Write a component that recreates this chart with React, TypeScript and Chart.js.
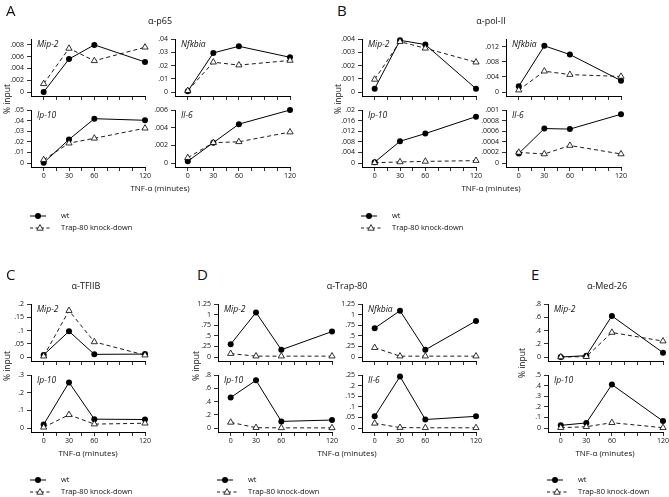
import React, { useEffect, useRef } from "react";
import { Chart, registerables } from "chart.js";

Chart.register(...registerables);

// ---------- shared axis values ----------
const minutes = [0, 30, 60, 120];
const xTickValues = [0, 15, 30, 45, 60, 75, 90, 105, 120];
const xLabeledMinutes = [0, 30, 60, 120];

// ---------- α-p65 ----------
const p65Mip2Wt = [0, 0.0056, 0.008, 0.0051];
const p65Mip2Kd = [0.0014, 0.0074, 0.0053, 0.0076];
const p65NfkbiaWt = [0.0005, 0.0295, 0.0345, 0.0262];
const p65NfkbiaKd = [0.001, 0.0225, 0.0203, 0.0238];
const p65Ip10Wt = [0.0003, 0.0222, 0.0418, 0.0403];
const p65Ip10Kd = [0.003, 0.0187, 0.0233, 0.0328];
const p65Il6Wt = [0.0002, 0.0023, 0.0044, 0.006];
const p65Il6Kd = [0.0006, 0.0023, 0.0024, 0.0035];

// ---------- α-pol-II ----------
const polMip2Wt = [0.00025, 0.0039, 0.00358, 0.00025];
const polMip2Kd = [0.00095, 0.0038, 0.0033, 0.00225];
const polNfkbiaWt = [0.0015, 0.0122, 0.0099, 0.003];
const polNfkbiaKd = [0.0005, 0.0055, 0.0046, 0.0041];
const polIp10Wt = [0.0003, 0.0082, 0.0111, 0.0175];
const polIp10Kd = [0.0001, 0.0004, 0.0006, 0.0009];
const polIl6Wt = [0.00018, 0.00065, 0.00064, 0.00092];
const polIl6Kd = [0.0002, 0.00017, 0.00033, 0.00017];

// ---------- α-TFIIB ----------
const tfMip2Wt = [0.008, 0.097, 0.01, 0.011];
const tfMip2Kd = [0.003, 0.175, 0.057, 0.007];
const tfIp10Wt = [0.02, 0.258, 0.05, 0.048];
const tfIp10Kd = [0.004, 0.075, 0.022, 0.027];

// ---------- α-Trap-80 ----------
const trMip2Wt = [0.3, 1.05, 0.17, 0.6];
const trMip2Kd = [0.08, 0.02, 0.02, 0.02];
const trNfkbiaWt = [0.68, 1.09, 0.17, 0.85];
const trNfkbiaKd = [0.22, 0.02, 0.02, 0.02];
const trIp10Wt = [0.46, 0.72, 0.1, 0.12];
const trIp10Kd = [0.085, 0.005, 0.002, 0.002];
const trIl6Wt = [0.055, 0.243, 0.04, 0.055];
const trIl6Kd = [0.022, 0.002, 0.001, 0.001];

// ---------- α-Med-26 ----------
const medMip2Wt = [0, 0.02, 0.62, 0.065];
const medMip2Kd = [0, 0.005, 0.37, 0.24];
const medIp10Wt = [0.025, 0.048, 0.41, 0.065];
const medIp10Kd = [0.003, 0.012, 0.05, 0.003];

// ---------- y tick values ----------
const ticksP65Mip2 = [0, 0.002, 0.004, 0.006, 0.008];
const ticksP65Nfkbia = [0, 0.01, 0.02, 0.03, 0.04];
const ticksP65Ip10 = [0, 0.01, 0.02, 0.03, 0.04, 0.05];
const ticksP65Il6 = [0, 0.002, 0.004, 0.006];
const ticksPolMip2 = [0, 0.001, 0.002, 0.003, 0.004];
const ticksPolNfkbia = [0, 0.004, 0.008, 0.012];
const ticksPolIp10 = [0, 0.004, 0.008, 0.012, 0.016, 0.02];
const ticksPolIl6 = [0, 0.0002, 0.0004, 0.0006, 0.0008, 0.001];
const ticksTfMip2 = [0, 0.05, 0.1, 0.15, 0.2];
const ticksTfIp10 = [0, 0.1, 0.2, 0.3];
const ticksTrMip2 = [0, 0.25, 0.5, 0.75, 1, 1.25];
const ticksTrIp10 = [0, 0.2, 0.4, 0.6, 0.8];
const ticksTrIl6 = [0, 0.05, 0.1, 0.15, 0.2, 0.25];
const ticksMedMip2 = [0, 0.2, 0.4, 0.6, 0.8];
const ticksMedIp10 = [0, 0.1, 0.2, 0.3, 0.4, 0.5];

const FONT = "'Open Sans', 'Noto Sans', sans-serif";

type Spec = {
  gene: string;
  wt: number[];
  kd: number[];
  yTicks: number[];
  yMax: number;
  left: number;
  right: number;
  top: number;
  bottom: number;
  showX: boolean;
};

// rows (chart-area top / x-axis line)
const R1 = { top: 39, bottom: 96 };
const R2 = { top: 110, bottom: 167 };
const R3 = { top: 304, bottom: 361 };
const R4 = { top: 375, bottom: 432 };
// columns (y-axis line / x = 120)
const CA1 = { left: 31, right: 145 };
const CA2 = { left: 175, right: 290 };
const CB1 = { left: 362, right: 476 };
const CB2 = { left: 506, right: 621 };
const CC = { left: 31, right: 145 };
const CD1 = { left: 218, right: 332 };
const CD2 = { left: 362, right: 476 };
const CE = { left: 548, right: 663 };

const specs: Spec[] = [
  { gene: "Mip-2", wt: p65Mip2Wt, kd: p65Mip2Kd, yTicks: ticksP65Mip2, yMax: 0.009, ...CA1, ...R1, showX: false },
  { gene: "Nfkbia", wt: p65NfkbiaWt, kd: p65NfkbiaKd, yTicks: ticksP65Nfkbia, yMax: 0.04, ...CA2, ...R1, showX: false },
  { gene: "Ip-10", wt: p65Ip10Wt, kd: p65Ip10Kd, yTicks: ticksP65Ip10, yMax: 0.05, ...CA1, ...R2, showX: true },
  { gene: "Il-6", wt: p65Il6Wt, kd: p65Il6Kd, yTicks: ticksP65Il6, yMax: 0.006, ...CA2, ...R2, showX: true },

  { gene: "Mip-2", wt: polMip2Wt, kd: polMip2Kd, yTicks: ticksPolMip2, yMax: 0.004, ...CB1, ...R1, showX: false },
  { gene: "Nfkbia", wt: polNfkbiaWt, kd: polNfkbiaKd, yTicks: ticksPolNfkbia, yMax: 0.014, ...CB2, ...R1, showX: false },
  { gene: "Ip-10", wt: polIp10Wt, kd: polIp10Kd, yTicks: ticksPolIp10, yMax: 0.02, ...CB1, ...R2, showX: true },
  { gene: "Il-6", wt: polIl6Wt, kd: polIl6Kd, yTicks: ticksPolIl6, yMax: 0.001, ...CB2, ...R2, showX: true },

  { gene: "Mip-2", wt: tfMip2Wt, kd: tfMip2Kd, yTicks: ticksTfMip2, yMax: 0.2, ...CC, ...R3, showX: false },
  { gene: "Ip-10", wt: tfIp10Wt, kd: tfIp10Kd, yTicks: ticksTfIp10, yMax: 0.3, ...CC, ...R4, showX: true },

  { gene: "Mip-2", wt: trMip2Wt, kd: trMip2Kd, yTicks: ticksTrMip2, yMax: 1.25, ...CD1, ...R3, showX: false },
  { gene: "Nfkbia", wt: trNfkbiaWt, kd: trNfkbiaKd, yTicks: ticksTrMip2, yMax: 1.25, ...CD2, ...R3, showX: false },
  { gene: "Ip-10", wt: trIp10Wt, kd: trIp10Kd, yTicks: ticksTrIp10, yMax: 0.8, ...CD1, ...R4, showX: true },
  { gene: "Il-6", wt: trIl6Wt, kd: trIl6Kd, yTicks: ticksTrIl6, yMax: 0.25, ...CD2, ...R4, showX: true },

  { gene: "Mip-2", wt: medMip2Wt, kd: medMip2Kd, yTicks: ticksMedMip2, yMax: 0.8, ...CE, ...R3, showX: false },
  { gene: "Ip-10", wt: medIp10Wt, kd: medIp10Kd, yTicks: ticksMedIp10, yMax: 0.5, ...CE, ...R4, showX: true },
];

const PAD_L = 34;
const PAD_T = 8;
const PAD_R = 12;
const PAD_B = 20;

function fmtTick(v: number): string {
  if (v === 0) return "0";
  const s = String(v);
  return s.startsWith("0.") ? s.slice(1) : s;
}

function SubChart({ s }: { s: Spec }) {
  const ref = useRef<HTMLCanvasElement>(null);
  const w = s.right - s.left + PAD_L + PAD_R;
  const h = s.bottom - s.top + PAD_T + PAD_B;
  useEffect(() => {
    if (!ref.current) return;
    const ph = s.bottom - s.top;
    const yMin = (-s.yMax * 4) / (ph - 4);
    const tickFont = { family: FONT, size: 7 };
    const chart = new Chart(ref.current, {
      type: "line",
      data: {
        datasets: [
          {
            label: "Trap-80 knock-down",
            data: minutes.map((m, i) => ({ x: m, y: s.kd[i] })),
            borderColor: "#000",
            borderWidth: 0.9,
            borderDash: [4, 3],
            pointStyle: "triangle",
            pointRadius: 3.6,
            pointBackgroundColor: "#fff",
            pointBorderColor: "#000",
            pointBorderWidth: 0.8,
            fill: false,
            tension: 0,
            clip: false,
          },
          {
            label: "wt",
            data: minutes.map((m, i) => ({ x: m, y: s.wt[i] })),
            borderColor: "#000",
            borderWidth: 1,
            pointStyle: "circle",
            pointRadius: 3,
            pointBackgroundColor: "#000",
            pointBorderColor: "#000",
            pointBorderWidth: 0,
            fill: false,
            tension: 0,
            clip: false,
          },
        ],
      } as any,
      options: {
        animation: false,
        responsive: false,
        maintainAspectRatio: false,
        devicePixelRatio: 1,
        events: [],
        layout: { autoPadding: false, padding: { left: 0, top: PAD_T, right: PAD_R, bottom: 0 } },
        plugins: { legend: { display: false }, tooltip: { enabled: false }, title: { display: false } },
        scales: {
          x: {
            type: "linear",
            min: -15,
            max: 120,
            afterBuildTicks: (sc: any) => {
              sc.ticks = xTickValues.map((v) => ({ value: v }));
            },
            afterFit: (sc: any) => {
              sc.height = PAD_B;
            },
            grid: { display: true, drawOnChartArea: false, drawTicks: true, tickLength: 4, tickColor: "#000", tickWidth: 0.8 },
            border: { display: true, color: "#000", width: 1 },
            ticks: {
              autoSkip: false,
              maxRotation: 0,
              minRotation: 0,
              padding: 1,
              color: "#111",
              font: tickFont,
              callback: (v: any) => (s.showX && xLabeledMinutes.includes(Number(v)) ? String(v) : ""),
            },
          },
          y: {
            type: "linear",
            min: yMin,
            max: s.yMax,
            afterBuildTicks: (sc: any) => {
              sc.ticks = s.yTicks.map((v) => ({ value: v }));
            },
            afterFit: (sc: any) => {
              sc.width = PAD_L;
            },
            grid: { display: true, drawOnChartArea: false, drawTicks: true, tickLength: 4, tickColor: "#000", tickWidth: 0.8 },
            border: { display: true, color: "#000", width: 1 },
            ticks: {
              autoSkip: false,
              padding: 3,
              color: "#111",
              font: tickFont,
              callback: (v: any) => fmtTick(Number(v)),
            },
          },
        },
      } as any,
    });
    return () => chart.destroy();
  }, [s]);
  return (
    <canvas
      ref={ref}
      width={w}
      height={h}
      style={{ position: "absolute", left: s.left - PAD_L, top: s.top - PAD_T, width: w, height: h }}
    />
  );
}

const textBase: React.CSSProperties = {
  position: "absolute",
  fontFamily: FONT,
  color: "#111",
  whiteSpace: "nowrap",
  lineHeight: 1,
};

function Centered({ x, y, size, children, rotate }: { x: number; y: number; size: number; children: React.ReactNode; rotate?: boolean }) {
  return (
    <div
      style={{
        ...textBase,
        left: x,
        top: y,
        fontSize: size,
        transform: `translate(-50%, -50%)${rotate ? " rotate(-90deg)" : ""}`,
      }}
    >
      {children}
    </div>
  );
}

function Legend({ x, y }: { x: number; y: number }) {
  return (
    <>
      <svg style={{ position: "absolute", left: x, top: y - 5 }} width={24} height={10}>
        <line x1={0} y1={5} x2={16} y2={5} stroke="#000" strokeWidth={1} />
        <circle cx={8} cy={5} r={3} fill="#000" />
      </svg>
      <div style={{ ...textBase, left: x + 31, top: y, fontSize: 7.5, transform: "translateY(-50%)" }}>wt</div>
      <svg style={{ position: "absolute", left: x, top: y + 12 - 5 }} width={24} height={10}>
        <line x1={0} y1={5} x2={20} y2={5} stroke="#000" strokeWidth={0.9} strokeDasharray="3,2.5" />
        <polygon points="10,1.6 13.2,7.2 6.8,7.2" fill="#fff" stroke="#000" strokeWidth={0.8} />
      </svg>
      <div style={{ ...textBase, left: x + 31, top: y + 12, fontSize: 7.5, transform: "translateY(-50%)" }}>
        Trap-80 knock-down
      </div>
    </>
  );
}

export default function App() {
  return (
    <div style={{ position: "absolute", left: 0, top: 0, width: 669, height: 497, background: "#fff", overflow: "hidden" }}>
      {specs.map((s, i) => (
        <SubChart key={i} s={s} />
      ))}
      {specs.map((s, i) => (
        <div
          key={"g" + i}
          style={{ ...textBase, left: s.left + 6, top: s.top + 5, fontSize: 8.5, fontStyle: "italic", transform: "translateY(-50%)" }}
        >
          {s.gene}
        </div>
      ))}

      {/* panel letters */}
      <div style={{ ...textBase, left: 6, top: 3, fontSize: 15 }}>A</div>
      <div style={{ ...textBase, left: 337, top: 3, fontSize: 15 }}>B</div>
      <div style={{ ...textBase, left: 6, top: 267, fontSize: 15 }}>C</div>
      <div style={{ ...textBase, left: 197, top: 267, fontSize: 15 }}>D</div>
      <div style={{ ...textBase, left: 531, top: 267, fontSize: 15 }}>E</div>

      {/* titles */}
      <Centered x={160} y={20} size={9}>α-p65</Centered>
      <Centered x={491} y={20} size={9}>α-pol-II</Centered>
      <Centered x={86} y={285} size={9}>α-TFIIB</Centered>
      <Centered x={347} y={285} size={9}>α-Trap-80</Centered>
      <Centered x={607} y={285} size={9}>α-Med-26</Centered>

      {/* y axis titles */}
      <Centered x={7} y={99} size={8.5} rotate>% input</Centered>
      <Centered x={338} y={99} size={8.5} rotate>% input</Centered>
      <Centered x={7} y={366} size={8.5} rotate>% input</Centered>
      <Centered x={196} y={366} size={8.5} rotate>% input</Centered>
      <Centered x={522} y={363} size={8.5} rotate>% input</Centered>

      {/* x axis titles */}
      <Centered x={160} y={188} size={8}>TNF-α (minutes)</Centered>
      <Centered x={491} y={188} size={8}>TNF-α (minutes)</Centered>
      <Centered x={88} y={453} size={8}>TNF-α (minutes)</Centered>
      <Centered x={347} y={453} size={8}>TNF-α (minutes)</Centered>
      <Centered x={605} y={453} size={8}>TNF-α (minutes)</Centered>

      {/* legends */}
      <Legend x={30} y={216} />
      <Legend x={361} y={216} />
      <Legend x={30} y={480} />
      <Legend x={217} y={480} />
      <Legend x={547} y={480} />
    </div>
  );
}
